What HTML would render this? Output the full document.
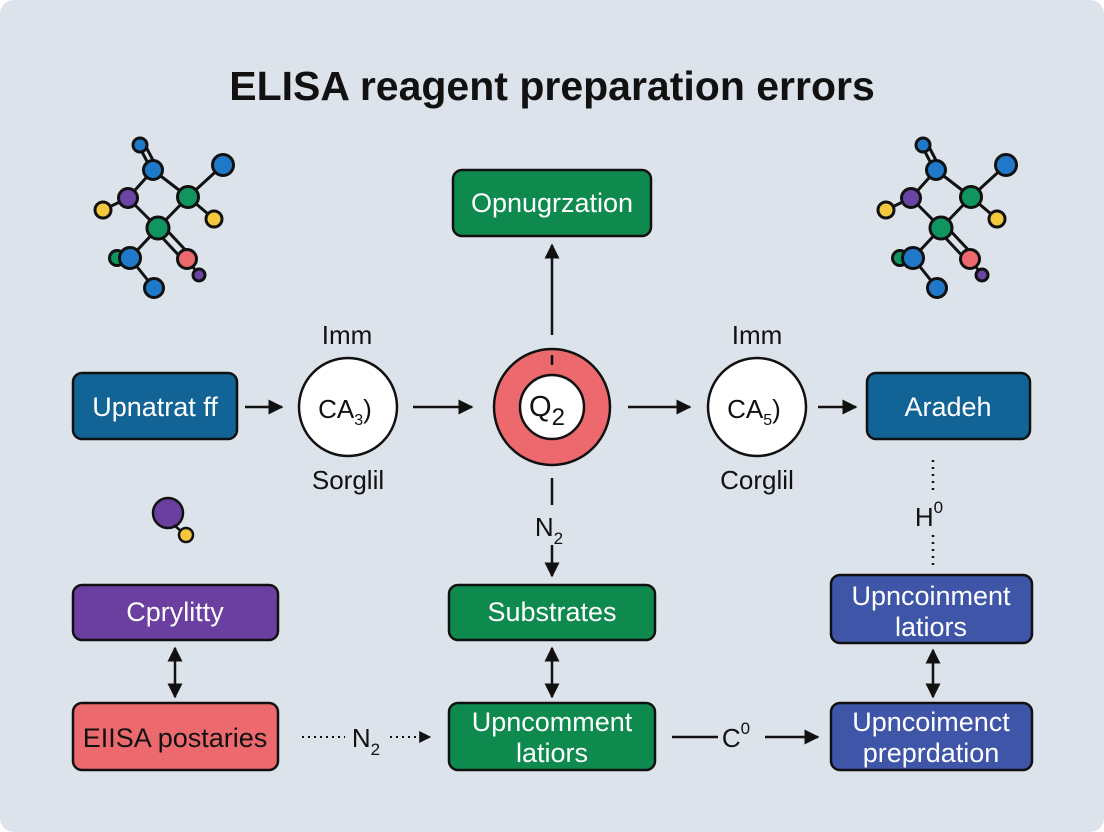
<!DOCTYPE html>
<html><head><meta charset="utf-8"><style>
html,body{margin:0;padding:0;background:#fff}
svg{display:block}
text{font-family:"Liberation Sans",sans-serif}
</style></head><body>
<svg width="1104" height="832" viewBox="0 0 1104 832" xmlns="http://www.w3.org/2000/svg">
<defs>
<marker id="a" viewBox="0 0 10 10" refX="9" refY="5" markerWidth="6" markerHeight="6" orient="auto-start-reverse"><path d="M0,0L10,5L0,10z" fill="#111"/></marker>
<g id="mol" stroke="#111" stroke-width="3">
<line x1="139" y1="146" x2="152" y2="171"/><line x1="144" y1="143" x2="157" y2="168"/>
<line x1="153" y1="170" x2="128" y2="198"/><line x1="153" y1="170" x2="188" y2="197"/>
<line x1="128" y1="198" x2="103" y2="210"/><line x1="188" y1="197" x2="223" y2="165"/>
<line x1="188" y1="197" x2="214" y2="219"/><line x1="128" y1="198" x2="158" y2="228"/>
<line x1="188" y1="197" x2="158" y2="228"/><line x1="158" y1="228" x2="130" y2="258"/>
<line x1="156" y1="231" x2="185" y2="262"/><line x1="162" y1="225" x2="191" y2="256"/>
<line x1="187" y1="259" x2="199" y2="275"/><line x1="130" y1="258" x2="154" y2="288"/>
<circle cx="140" cy="145" r="7" fill="#1f78c8"/>
<circle cx="153" cy="170" r="9.5" fill="#1f78c8"/>
<circle cx="128" cy="198" r="9.5" fill="#6a45a5"/>
<circle cx="103" cy="210" r="8" fill="#f5c93e"/>
<circle cx="188" cy="197" r="10.5" fill="#119560"/>
<circle cx="223" cy="165" r="10.5" fill="#1f78c8"/>
<circle cx="214" cy="219" r="8" fill="#f5c93e"/>
<circle cx="158" cy="228" r="11" fill="#119560"/>
<circle cx="117" cy="258" r="7.5" fill="#119560"/>
<circle cx="130" cy="258" r="10.5" fill="#1f78c8"/>
<circle cx="187" cy="259" r="9.5" fill="#ec6a6e"/>
<circle cx="199" cy="275" r="6" fill="#6a45a5"/>
<circle cx="154" cy="288" r="9.5" fill="#1f78c8"/>
</g>
</defs>
<rect x="0" y="0" width="1104" height="832" rx="14" fill="#dde3ea"/>
<text x="552" y="100" text-anchor="middle" font-size="41" font-weight="bold" fill="#111">ELISA reagent preparation errors</text>
<use href="#mol"/>
<use href="#mol" transform="translate(783,0)"/>

<g stroke="#111" stroke-width="2.5">
<rect x="453" y="170" width="198" height="66" rx="9" fill="#0f8a4e"/>
<rect x="73" y="373" width="164" height="66" rx="9" fill="#136496"/>
<rect x="867" y="373" width="163" height="66" rx="9" fill="#136496"/>
<rect x="449" y="585" width="206" height="55" rx="9" fill="#0f8a4e"/>
<rect x="449" y="703" width="206" height="67" rx="9" fill="#0f8a4e"/>
<rect x="73" y="585" width="205" height="55" rx="9" fill="#6a3fa0"/>
<rect x="73" y="703" width="205" height="67" rx="9" fill="#ec6a6e"/>
<rect x="831" y="575" width="201" height="68" rx="9" fill="#3f55a8"/>
<rect x="831" y="703" width="201" height="67" rx="9" fill="#3f55a8"/>
<circle cx="348" cy="407" r="49" fill="#fff"/>
<circle cx="757" cy="407" r="49" fill="#fff"/>
<circle cx="552" cy="407" r="58" fill="#ec6a6e"/>
<circle cx="552" cy="407" r="32" fill="#fff"/>
<circle cx="168" cy="513" r="15" fill="#6a3fa0"/>
<line x1="174" y1="525" x2="182" y2="532"/>
<circle cx="186" cy="535" r="7" fill="#f5c93e"/>
</g>

<g stroke="#111" stroke-width="2.5" fill="none">
<line x1="245" y1="407" x2="282" y2="407" marker-end="url(#a)"/>
<line x1="413" y1="407" x2="472" y2="407" marker-end="url(#a)"/>
<line x1="628" y1="407" x2="690" y2="407" marker-end="url(#a)"/>
<line x1="818" y1="407" x2="856" y2="407" marker-end="url(#a)"/>
<line x1="552" y1="335" x2="552" y2="245" marker-end="url(#a)"/>
<line x1="552" y1="355" x2="552" y2="365"/>
<line x1="552" y1="478" x2="552" y2="505"/>
<line x1="552" y1="545" x2="552" y2="576" marker-end="url(#a)"/>
<line x1="552" y1="648" x2="552" y2="697" marker-start="url(#a)" marker-end="url(#a)"/>
<line x1="175" y1="648" x2="175" y2="697" marker-start="url(#a)" marker-end="url(#a)"/>
<line x1="933" y1="650" x2="933" y2="697" marker-start="url(#a)" marker-end="url(#a)"/>
<line x1="302" y1="737" x2="345" y2="737" stroke-dasharray="2,4" stroke-width="2"/>
<line x1="390" y1="737" x2="430" y2="737" stroke-dasharray="2,4" stroke-width="2" marker-end="url(#a)"/>
<line x1="672" y1="737" x2="718" y2="737"/>
<line x1="765" y1="737" x2="818" y2="737" marker-end="url(#a)"/>
<line x1="933" y1="460" x2="933" y2="490" stroke-dasharray="2,5" stroke-width="2.5"/>
<line x1="933" y1="535" x2="933" y2="565" stroke-dasharray="2,5" stroke-width="2.5"/>
</g>

<g font-size="27" text-anchor="middle" fill="#fff">
<text x="552" y="212">Opnugrzation</text>
<text x="155" y="416">Upnatrat ff</text>
<text x="948" y="416">Aradeh</text>
<text x="552" y="621">Substrates</text>
<text x="552" y="731">Upncomment</text>
<text x="552" y="762">latiors</text>
<text x="175" y="621">Cprylitty</text>
<text x="175" y="747" fill="#111">EIISA postaries</text>
<text x="931" y="605">Upncoinment</text>
<text x="931" y="636">latiors</text>
<text x="931" y="731">Upncoimenct</text>
<text x="931" y="762">preprdation</text>
</g>
<g font-size="26" text-anchor="middle" fill="#111">
<text x="347" y="344">Imm</text>
<text x="757" y="344">Imm</text>
<text x="348" y="489">Sorglil</text>
<text x="757" y="489">Corglil</text>
<text x="345" y="418">CA<tspan font-size="16" dy="7">3</tspan><tspan dy="-7">)</tspan></text>
<text x="754" y="418">CA<tspan font-size="16" dy="7">5</tspan><tspan dy="-7">)</tspan></text>
<text x="547" y="416" font-size="29">Q<tspan font-size="24" dy="9">2</tspan></text>
<text x="549" y="536">N<tspan font-size="17" dy="8">2</tspan></text>
<text x="366" y="747">N<tspan font-size="17" dy="8">2</tspan></text>
<text x="736" y="747">C<tspan font-size="17" dy="-13">0</tspan></text>
<text x="929" y="526">H<tspan font-size="17" dy="-13">0</tspan></text>
</g>
</svg>
</body></html>
